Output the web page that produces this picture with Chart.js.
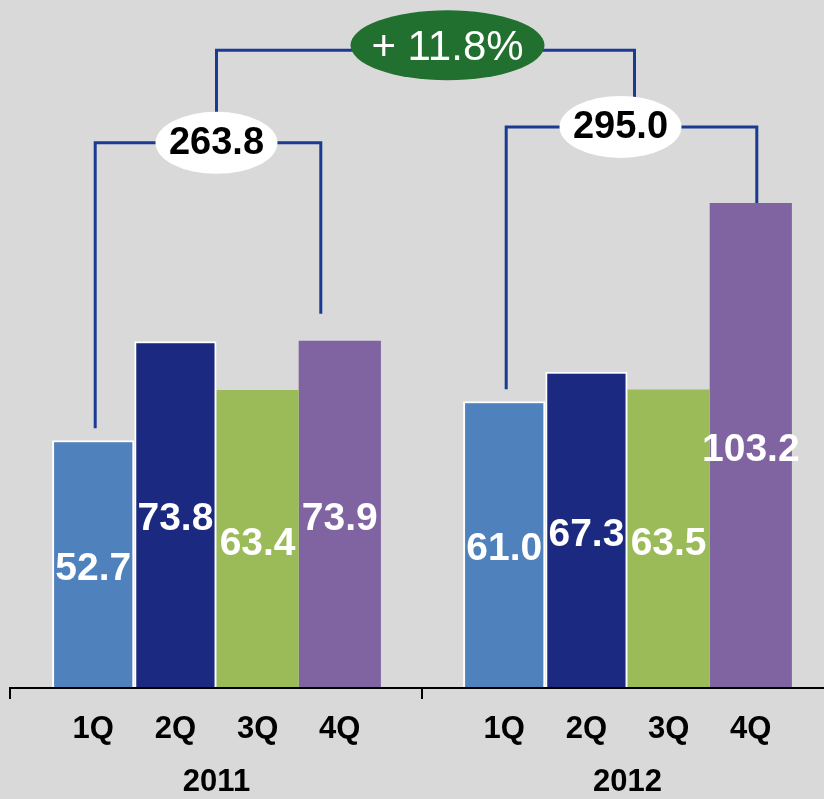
<!DOCTYPE html>
<html>
<head>
<meta charset="utf-8">
<script src="https://cdn.jsdelivr.net/npm/chart.js@4"></script>
<style>
  html, body { margin: 0; padding: 0; background: #d9d9d9; overflow: hidden; }
  canvas { display: block; }
</style>
</head>
<body>
<canvas id="myChart" width="842" height="799"></canvas>
<script>
// quarterly figures per year
var years = ['2011', '2012'];
var quarters = ['1Q', '2Q', '3Q', '4Q'];
var q1 = [52.7, 61.0];
var q2 = [73.8, 67.3];
var q3 = [63.4, 63.5];
var q4 = [73.9, 103.2];

var colors = ['#4f81bd', '#1b2a80', '#9bbb59', '#8064a2'];
var FONT = "'Liberation Sans', Arial, sans-serif";

// the brackets, totals and labels drawn on top of the bars
var overlay = {
  id: 'overlay',
  afterDatasetsDraw: function(chart, args, opts) {
    var ctx = chart.ctx;
    var xs = chart.scales.x;
    var ys = chart.scales.y;
    var metas = [0, 1, 2, 3].map(function(i) { return chart.getDatasetMeta(i); });
    var base = ys.getPixelForValue(0);

    ctx.save();

    // value inside each bar
    ctx.fillStyle = '#ffffff';
    ctx.font = 'bold 39px ' + FONT;
    ctx.textAlign = 'center';
    ctx.textBaseline = 'middle';
    chart.data.datasets.forEach(function(ds, i) {
      metas[i].data.forEach(function(bar, j) {
        ctx.fillText(ds.data[j].toFixed(1), bar.x, (bar.y + bar.base) / 2 + 5);
      });
    });

    // x axis line with tick marks
    ctx.strokeStyle = '#000000';
    ctx.lineWidth = 2;
    ctx.beginPath();
    ctx.moveTo(10, base);
    ctx.lineTo(chart.width, base);
    var tickX = [10, (xs.getPixelForValue(0) + xs.getPixelForValue(1)) / 2];
    tickX.forEach(function(tx) {
      ctx.moveTo(tx, base - 1);
      ctx.lineTo(tx, base + 11);
    });
    ctx.stroke();

    // quarter and year labels
    ctx.fillStyle = '#000000';
    ctx.font = 'bold 31px ' + FONT;
    for (var j = 0; j < years.length; j++) {
      for (var i = 0; i < quarters.length; i++) {
        ctx.fillText(quarters[i], metas[i].data[j].x, base + 41);
      }
    }
    years.forEach(function(yr, j) {
      ctx.fillText(yr, xs.getPixelForValue(j), base + 94);
    });

    // year brackets
    var totals = [];
    var ovals = [];
    ctx.strokeStyle = opts.lineColor;
    ctx.lineWidth = 3;
    years.forEach(function(yr, j) {
      var total = 0;
      chart.data.datasets.forEach(function(ds) { total += ds.data[j]; });
      totals.push(total);
      var first = metas[0].data[j];
      var last = metas[3].data[j];
      var level = ys.getPixelForValue(opts.levels[j]);
      var lx = first.x + 2;
      var rx = last.x + opts.rightShift[j];
      ctx.beginPath();
      ctx.moveTo(lx, first.y - 12);
      ctx.lineTo(lx, level);
      ctx.lineTo(rx, level);
      ctx.lineTo(rx, last.y - opts.rightGap[j]);
      ctx.stroke();
      ovals.push({ x: xs.getPixelForValue(j) + opts.ovalShift[j], y: level });
    });

    // growth bracket joining the two totals
    var top = ys.getPixelForValue(opts.topLevel);
    var gx1 = ovals[0].x;
    var gx2 = xs.getPixelForValue(1) + 7;
    ctx.beginPath();
    ctx.moveTo(gx1, ovals[0].y - 30);
    ctx.lineTo(gx1, top);
    ctx.lineTo(gx2, top);
    ctx.lineTo(gx2, ovals[1].y - 30);
    ctx.stroke();

    // total ovals
    ctx.font = 'bold 38px ' + FONT;
    ovals.forEach(function(o, j) {
      ctx.fillStyle = '#ffffff';
      ctx.beginPath();
      ctx.ellipse(o.x, o.y, 61, 31, 0, 0, Math.PI * 2);
      ctx.fill();
      ctx.fillStyle = '#000000';
      ctx.fillText(totals[j].toFixed(1), o.x, o.y + 1);
    });

    // growth oval
    var growth = (totals[1] / totals[0] - 1) * 100;
    var gcx = (gx1 + gx2) / 2 + 22;
    ctx.fillStyle = opts.growthColor;
    ctx.beginPath();
    ctx.ellipse(gcx, top - 5, 97, 35, 0, 0, Math.PI * 2);
    ctx.fill();
    ctx.fillStyle = '#ffffff';
    ctx.font = '42px ' + FONT;
    ctx.fillText('+ ' + growth.toFixed(1) + '%', gcx, top - 2);

    ctx.restore();
  }
};

var ctx = document.getElementById('myChart');

var datasets = [q1, q2, q3, q4].map(function(values, i) {
  return {
    label: quarters[i],
    data: values,
    backgroundColor: colors[i],
    borderColor: '#ffffff',
    borderWidth: i < 2 ? 2 : 0
  };
});

var myChart = new Chart(ctx, {
  type: 'bar',
  data: { labels: years, datasets: datasets },
  options: {
    responsive: false,
    animation: false,
    layout: { padding: { left: 11, right: 9, top: 0, bottom: 111 } },
    categoryPercentage: 0.8,
    barPercentage: 1.0,
    scales: {
      x: { display: false },
      y: { display: false, min: 0, max: 146.4 }
    },
    plugins: {
      legend: { display: false },
      tooltip: { enabled: false },
      overlay: {
        lineColor: '#1a3a94',
        growthColor: '#217030',
        levels: [116, 119.4],
        topLevel: 135.7,
        rightShift: [-19, 6],
        rightGap: [27, 0],
        ovalShift: [0, -7]
      }
    }
  },
  plugins: [overlay]
});
</script>
</body>
</html>
